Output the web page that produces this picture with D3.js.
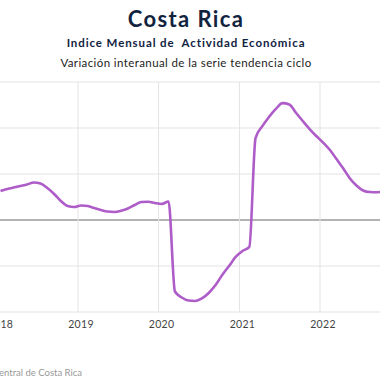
<!DOCTYPE html>
<html><head><meta charset="utf-8">
<script src="https://cdn.jsdelivr.net/npm/d3@7"></script>
<style>
html,body{margin:0;padding:0;background:#fff;overflow:hidden;}
svg{display:block;font-family:Lato, "Open Sans", sans-serif;}
</style></head>
<body>
<svg id="c" width="380" height="380"></svg>
<script>
const title = "Costa Rica";
const subtitle = "Indice Mensual de  Actividad Económica";
const subtitle2 = "Variación interanual de la serie tendencia ciclo";
const source = "Fuente: Banco Central de Costa Rica";
const startMonth = "2018-01";
const values = [3.15,3.37,3.53,3.70,3.86,4.08,3.97,3.48,2.83,2.07,1.52,1.41,
  1.58,1.52,1.30,1.09,0.92,0.87,1.00,1.25,1.63,1.96,1.99,1.85,
  1.74,2.01,-7.77,-8.42,-8.75,-8.80,-8.53,-7.93,-7.07,-5.98,-5.00,-4.02,
  -3.37,-2.93,8.91,10.20,11.20,12.07,12.70,12.55,11.63,10.76,9.89,9.13,
  8.42,7.61,6.68,5.65,4.57,3.75,3.21,3.04,3.02,3.10,3.20];
const yearTicks = ["2018","2019","2020","2021","2022"];
const yTicks = [-10,-5,0,5,10,15];

const svg = d3.select("#c");
const parse = d3.timeParse("%Y-%m");
const start = parse(startMonth);
const data = values.map((v,i)=>({date: d3.timeDay.offset(d3.timeMonth.offset(start,i),14), v}));

const x = d3.scaleTime().domain([new Date(2019,0,1), new Date(2022,0,1)]).range([78,320]);
const y = d3.scaleLinear().domain([-10,15]).range([312,82]);

// horizontal gridlines
svg.append("g").selectAll("line").data(yTicks).join("line")
  .attr("x1",0).attr("x2",380)
  .attr("y1",d=>y(d)).attr("y2",d=>y(d))
  .attr("stroke",d=> d===0 ? "#9a9a9a" : "#e3e3e3")
  .attr("stroke-width",d=> d===0 ? 1.5 : 1);

// vertical gridlines
const years = yearTicks.map(s=>d3.timeParse("%Y")(s));
svg.append("g").selectAll("line").data(years).join("line")
  .attr("x1",d=>x(d)).attr("x2",d=>x(d))
  .attr("y1",y(15)).attr("y2",y(-10))
  .attr("stroke","#e3e3e3").attr("stroke-width",1);

// x labels
svg.append("g").selectAll("text").data(years).join("text")
  .attr("x",d=>x(d)+3).attr("y",328)
  .attr("text-anchor","middle")
  .attr("font-size",10.5).attr("fill","#444")
  .attr("letter-spacing",0.3)
  .text(d=>d3.timeFormat("%Y")(d));

// line
const line = d3.line().x(d=>x(d.date)).y(d=>y(d.v)).curve(d3.curveMonotoneX);
svg.append("path").datum(data)
  .attr("d",line).attr("fill","none")
  .attr("stroke","#ad5cc8").attr("stroke-width",2.6)
  .attr("stroke-linejoin","round");

// titles
svg.append("text").attr("x",186).attr("y",27).attr("text-anchor","middle")
  .attr("font-size",22).attr("font-weight","bold").attr("fill","#11233f")
  .attr("letter-spacing",1.4).text(title);
svg.append("text").attr("x",186).attr("y",47).attr("text-anchor","middle")
  .attr("font-size",11.5).attr("font-weight","bold").attr("fill","#11233f")
  .attr("letter-spacing",0.9)
  .attr("xml:space","preserve").style("white-space","pre").text(subtitle);
svg.append("text").attr("x",186).attr("y",67).attr("text-anchor","middle")
  .attr("font-size",11.5).attr("fill","#222")
  .attr("letter-spacing",0.4).text(subtitle2);

// source
svg.append("text").attr("x",82).attr("y",376).attr("text-anchor","end")
  .attr("font-size",9.5).attr("fill","#999").text(source);
</script>
</body></html>
